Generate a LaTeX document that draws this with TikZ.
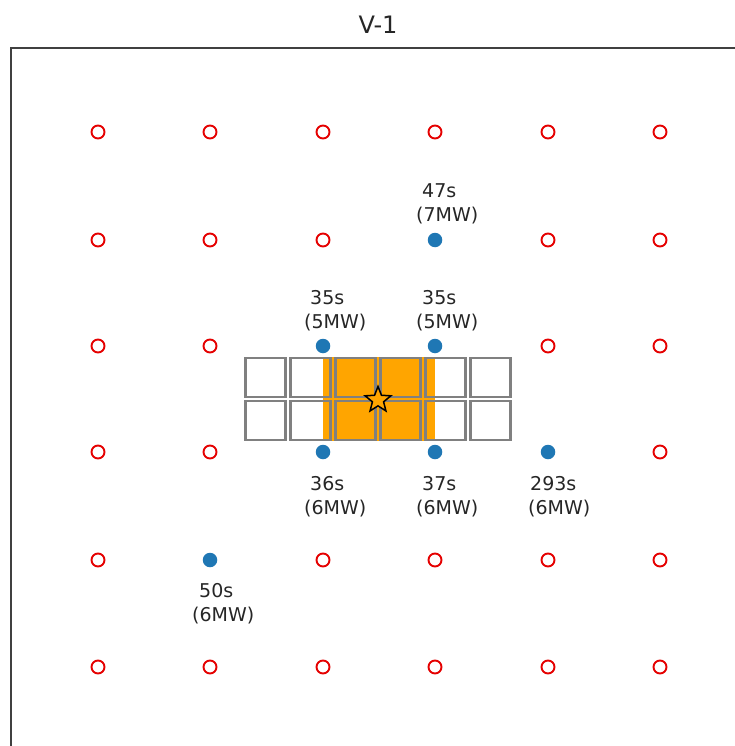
\documentclass[tikz,border=0pt]{standalone}
\usepackage{fontspec}
\setmainfont{DejaVu Sans}
\usetikzlibrary{shapes.geometric}
\definecolor{mplblue}{HTML}{1F77B4}
\definecolor{mplorange}{HTML}{FFA500}
\definecolor{txtgray}{HTML}{262626}
\begin{document}
\begin{tikzpicture}[x=1pt,y=-1pt,
  frameline/.style={draw=black!75,line width=1.4pt},
  emptysite/.style={circle,draw=red!90!black,line width=1.9pt,minimum size=13pt,inner sep=0pt},
  usedsite/.style={circle,fill=mplblue,minimum size=14.5pt,inner sep=0pt},
  cellbox/.style={draw=black!50,line width=2.6pt,minimum width=40pt,minimum height=39pt,inner sep=0pt},
  lbl/.style={anchor=base west,inner sep=0pt,text=txtgray,font=\fontsize{19}{22}\selectfont}]
\useasboundingbox (0,0) rectangle (734,746);
\fill[white] (0,0) rectangle (734,746);
\node[font=\fontsize{24}{28}\selectfont,text=txtgray] (title) at (378,25) {V-1};
\coordinate (fbl) at (11,760);
\coordinate (ftl) at (11,48);
\coordinate (ftr) at (740,48);
\draw[frameline] (fbl) -- (ftl) -- (ftr);
% empty sites
\foreach \xx [count=\i] in {98,210,323,435,548,660}{
  \foreach \yy [count=\j] in {132,240,346,452,560,667}{
    \node[emptysite] (r-\i-\j) at (\xx,\yy) {};
  }
}
% cover used sites (drawn as blue)
\foreach \p/\q in {435/240,323/346,435/346,323/452,435/452,548/452,210/560}{
  \fill[white] (\p,\q) circle (9);
}
% orange region
\fill[mplorange] (323,357) rectangle (435,441);
% cells
\foreach \i in {0,...,5}{
  \foreach \j in {0,1}{
    \node[cellbox] (c-\i-\j) at ({265.5+45*\i},{377.5+43*\j}) {};
  }
}
\node[star,star points=5,star point ratio=2.3,minimum size=27pt,inner sep=0pt,draw=black,line width=1.5pt,fill=mplorange] (st) at (378,400) {};
% used sites
\node[usedsite] (u1) at (435,240) {};
\node[usedsite] (u2) at (323,346) {};
\node[usedsite] (u3) at (435,346) {};
\node[usedsite] (u4) at (323,452) {};
\node[usedsite] (u5) at (435,452) {};
\node[usedsite] (u6) at (548,452) {};
\node[usedsite] (u7) at (210,560) {};
% labels
\node[lbl] (t1a) at (422,197) {47s};
\node[lbl] (t1b) at (416,221) {(7MW)};
\node[lbl] (t2a) at (310,304) {35s};
\node[lbl] (t2b) at (304,328) {(5MW)};
\node[lbl] (t3a) at (422,304) {35s};
\node[lbl] (t3b) at (416,328) {(5MW)};
\node[lbl] (t4a) at (310,490) {36s};
\node[lbl] (t4b) at (304,514) {(6MW)};
\node[lbl] (t5a) at (422,490) {37s};
\node[lbl] (t5b) at (416,514) {(6MW)};
\node[lbl] (t6a) at (530,490) {293s};
\node[lbl] (t6b) at (528,514) {(6MW)};
\node[lbl] (t7a) at (199,597) {50s};
\node[lbl] (t7b) at (192,621) {(6MW)};
\end{tikzpicture}
\end{document}
